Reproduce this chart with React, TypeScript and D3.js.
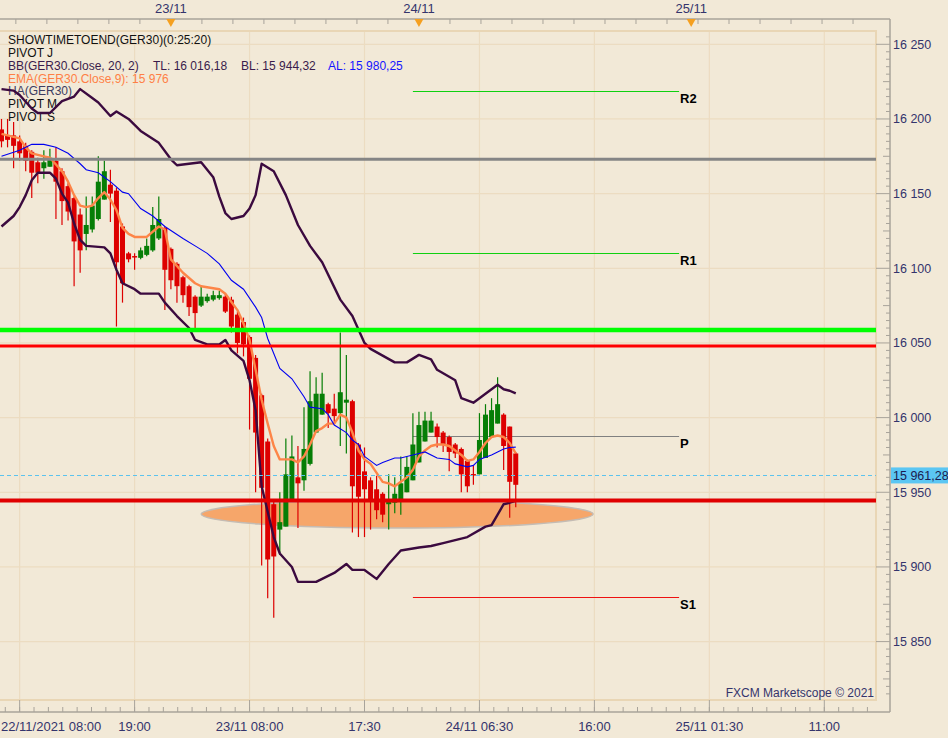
import React from 'react';
import * as d3 from 'd3';

// GER30, 30 min candles, index 0 = 22/11 06:30
const opens = [16193, 16189, 16189, 16185, 16182, 16178, 16171, 16167, 16168, 16172,
  16165, 16155, 16147, 16136, 16123, 16126, 16133, 16146, 16156, 16152,
  16128, 16110, 16108.2, 16107, 16109, 16112, 16120, 16127, 16113, 16103,
  16094, 16088, 16081, 16075, 16078, 16079, 16080, 16081, 16079, 16069,
  16064, 16054, 16040, 16015, 15984, 15942, 15925, 15927, 15945, 15960,
  15958, 15969, 15990, 16002, 16009, 16006, 16003, 16010, 16011, 15982,
  15964, 15958, 15952, 15949, 15942, 15943, 15945, 15950, 15958, 15970,
  15984, 15990, 15994, 15990, 15987, 15982, 15979, 15971, 15962.2, 15962,
  15973, 15987, 15996, 16002, 15994, 15976];
const highs = [16200, 16200, 16198, 16189, 16184, 16179, 16174, 16179, 16180, 16181,
  16167, 16157, 16148, 16140, 16148, 16148, 16175, 16172, 16166, 16154,
  16130, 16111, 16110, 16114, 16120, 16141, 16148, 16128, 16114, 16104,
  16095, 16089, 16082, 16088, 16083, 16085, 16085, 16083, 16081, 16071,
  16067, 16055, 16042, 16016, 15986, 15945, 15950, 15986, 15988, 15981,
  16007, 16031, 16027, 16030, 16010, 16016, 16057, 16042, 16012, 15983,
  15980, 15960, 15961, 15950, 15962, 15960, 15974, 15974, 16003, 16004,
  16004, 16004, 15996, 15991, 15988, 15983, 15980, 15972, 15968, 16003,
  16009, 16013, 16027, 16003, 15994, 15977];
const lows = [16181, 16181, 16167, 16172, 16165, 16147, 16157, 16160, 16168, 16133,
  16129, 16132, 16088, 16097, 16112, 16124, 16132, 16146, 16131, 16061,
  16077, 16104, 16099, 16106, 16108, 16111, 16119, 16072, 16086, 16077,
  16077, 16068, 16060, 16074, 16077, 16078, 16079, 16070, 16057, 16043,
  16041, 15992, 15950, 15901, 15879, 15866, 15908, 15927, 15944, 15926,
  15951, 15968, 15990, 16002, 15993, 15996, 15981, 15976, 15923, 15920,
  15920, 15925, 15932, 15930, 15925, 15936, 15935, 15950, 15958, 15970,
  15984, 15990, 15980, 15977, 15964, 15973, 15950, 15950, 15955, 15962,
  15973, 15987, 15996, 15965, 15933, 15940];
const closes = [16185, 16186, 16182, 16177, 16172, 16164, 16164, 16171, 16174, 16158,
  16145, 16138, 16118, 16112, 16129, 16142, 16158, 16165, 16150, 16104,
  16090, 16106, 16107.6, 16112, 16115, 16129, 16133, 16099, 16092, 16088,
  16082, 16074, 16070, 16081, 16081, 16082, 16082, 16071, 16061, 16050,
  16049, 16026, 15990, 15953, 15905, 15907, 15930, 15962, 15974, 15956,
  15979, 16011, 16016, 16016, 16003, 16001, 16017, 16012, 15954, 15947,
  15952, 15945, 15938, 15935, 15944, 15949, 15956, 15967, 15982, 15995,
  15998, 15998, 15987, 15982, 15977, 15976, 15962, 15954, 15961.8, 15985,
  16002, 16005, 16009, 15981, 15957, 15955];

// indicator lines: [candle index, price]
const bbUpper: [number, number][] = [[0, 16220], [2, 16219], [3, 16216], [5, 16207], [6, 16204], [8, 16204],
  [10, 16212], [12, 16215], [13, 16220], [15, 16214], [16, 16211], [18, 16202], [19, 16205], [21, 16200],
  [23, 16192], [26, 16184], [28, 16173], [29, 16169], [33, 16171], [35, 16161], [36, 16148], [37, 16137],
  [38, 16133], [40, 16135], [41, 16140], [42, 16149], [43, 16170], [45, 16165], [47, 16149], [49, 16129],
  [51, 16115], [53, 16104], [56, 16079], [58, 16068], [60, 16050], [61, 16046], [65, 16037], [67, 16037],
  [69, 16042], [71, 16039], [72, 16032], [75, 16025], [76, 16013], [78, 16010], [80, 16016], [82, 16022],
  [83, 16019], [84, 16018], [85, 16016.18]];
const bbLower: [number, number][] = [[0, 16128], [2, 16135], [3, 16141], [4, 16149], [5, 16159], [6, 16164],
  [8, 16164], [9, 16160], [10, 16150], [11, 16144], [12, 16130], [13, 16119], [14, 16115], [17, 16114],
  [18, 16110], [19, 16099], [20, 16090], [22, 16086], [23, 16083], [26, 16083], [27, 16077], [29, 16068],
  [31, 16060], [32, 16052], [34, 16049], [36, 16049], [37, 16052], [38, 16045], [40, 16038], [41, 16025],
  [42, 16005], [43, 15954], [45, 15920], [46, 15909], [48, 15900], [49, 15890], [52, 15890], [55, 15896],
  [57, 15902], [58, 15898], [60, 15898], [62, 15892], [64, 15902], [66, 15911], [69, 15913], [71, 15914],
  [73, 15916], [76, 15919], [77, 15920], [80, 15927], [81, 15928], [83, 15942], [84, 15943], [85, 15944.32]];
const bbMid: [number, number][] = [[0, 16175], [3, 16179], [5, 16183], [7, 16183], [9, 16181], [11, 16177],
  [13, 16170], [14, 16166], [16, 16164], [17, 16161], [18, 16158], [20, 16151], [21, 16150], [23, 16140],
  [25, 16135], [27, 16128], [30, 16120], [32, 16115], [34, 16110], [36, 16103], [38, 16092], [40, 16086],
  [42, 16074], [43, 16067], [44, 16053], [46, 16033], [48, 16026], [50, 16014], [51, 16007], [53, 16006],
  [54, 16002], [55, 15995], [57, 15990], [58, 15985], [59, 15982], [60, 15974], [61, 15971], [62, 15968],
  [63, 15970], [65, 15973], [66, 15973], [69, 15976], [70, 15977], [72, 15973], [74, 15972], [75, 15969],
  [77, 15967], [78, 15968], [79, 15972], [81, 15975], [82, 15977], [83, 15979], [84, 15980], [85, 15980.25]];
const ema9: [number, number][] = [[0, 16190], [3, 16187], [4, 16181], [5, 16177], [7, 16175], [8, 16174],
  [10, 16165], [11, 16158], [12, 16149], [13, 16142], [14, 16141], [15, 16142], [16, 16147], [17, 16151],
  [18, 16146], [19, 16139], [20, 16127], [21, 16123], [22, 16121], [24, 16121], [26, 16128], [27, 16126],
  [28, 16106], [30, 16097], [32, 16090], [33, 16088], [36, 16086], [37, 16083], [39, 16072], [40, 16063],
  [41, 16052], [42, 16032], [43, 16012], [44, 15996], [45, 15981], [46, 15972], [48, 15972], [49, 15970],
  [50, 15974], [51, 15982], [52, 15991], [53, 15993], [54, 15996], [55, 15996], [56, 16002], [57, 16000],
  [58, 15990], [59, 15978], [60, 15972], [61, 15969], [62, 15963], [63, 15957], [64, 15956], [65, 15954],
  [66, 15957], [67, 15960], [68, 15965], [69, 15974], [70, 15978], [71, 15981], [72, 15982], [73, 15982],
  [74, 15981], [75, 15978], [76, 15975], [77, 15971], [78, 15972], [79, 15977], [80, 15983], [81, 15987],
  [82, 15988], [83, 15987], [84, 15983], [85, 15976]];

// pivots for 24/11
const pivotNames = ['R2', 'R1', 'P', 'S1'];
const pivotValues = [16218.4, 16110.2, 15987.7, 15880.2];
const pivotColors = ['#10d010', '#10d010', '#808080', '#ee1111'];
const pivotSpan = [68, 112];

// drawn levels
const levelValues = [16173, 16058.7, 16047.9, 15944.5];
const levelColors = ['#858585', '#00ff00', '#ff0000', '#e00000'];
const levelWidths = [3, 4.5, 3, 4];
const lastPrice = 15961.28;

// highlighted zone (ellipse): centre index, centre price, half width in candles, half height in points
const zoneCenter = [65.4, 15935.4];
const zoneHalf = [32.4, 9.4];

// time axis
const bottomTickIdx = [3, 22, 41, 60, 79, 98, 117, 136];
const bottomLabels = ['22/11/2021 08:00', '19:00', '23/11 08:00', '17:30', '24/11 06:30', '16:00', '25/11 01:30', '11:00'];
const dayIdx = [28, 69, 114];
const dayLabels = ['23/11', '24/11', '25/11'];

const fmt = (v: number) => d3.format(',')(v).replace(/,/g, ' ');

const App: React.FC = () => {
  const W = 948, H = 738;
  const plotR = 876, plotT = 31, plotB = 700, axisX = 890, topY = 19, botY = 712;
  const font = "'Liberation Sans', Arial, sans-serif";
  const axisCol = '#34346c';

  const x = d3.scaleLinear().domain([0, 85]).range([1.5, 515.75]);
  const y = d3.scaleLinear().domain([15850, 16250]).range([641.6, 44.3]);
  const line = d3.line<[number, number]>().x(d => x(d[0])).y(d => y(d[1]));
  const crisp = (v: number) => Math.round(v) + 0.5;

  const priceTicks = d3.range(15815, 16256, 5).filter(v => y(v) >= plotT && y(v) <= plotB);
  const gridVals = priceTicks.filter(v => v % 50 === 0);
  const minorStep = 19 / 8;
  const botMinor = d3.range(3 - minorStep * 2, 145, minorStep).filter(i => x(i) >= 0 && x(i) <= plotR);
  const topStep = 41 / 8;
  const topMinor = d3.range(28 - topStep * 5, 145, topStep).filter(i => x(i) >= 0 && x(i) <= axisX);

  const idx = d3.range(opens.length);

  return (
    <div style={{ position: 'fixed', left: 0, top: 0 }}>
      <svg width={W} height={H} style={{ display: 'block' }} fontFamily={font}>
        <rect width={W} height={H} fill="#f2e9d7" />

        {/* grid */}
        {gridVals.map(v => (
          <line key={'gh' + v} x1={0} x2={plotR} y1={y(v)} y2={y(v)} stroke="#ecdcc1" strokeWidth={1.2} />
        ))}
        {bottomTickIdx.map(i => (
          <line key={'gv' + i} x1={x(i)} x2={x(i)} y1={plotT} y2={plotB} stroke="#ecdcc1" strokeWidth={1.2} />
        ))}
        <rect x={-2} y={plotT} width={plotR + 2} height={plotB - plotT} fill="none" stroke="#e9d6b5" strokeWidth={2} />

        {/* legend */}
        <g fontSize={12}>
          <text x={8} y={43.5} fill="#111">SHOWTIMETOEND(GER30)(0:25:20)</text>
          <text x={8} y={56.5} fill="#111">PIVOT J</text>
          <text x={8} y={69.5} fill="#3a1c4c">BB(GER30.Close, 20, 2)</text>
          <text x={153} y={69.5} fill="#3a1c4c">TL: 16 016,18</text>
          <text x={241} y={69.5} fill="#3a1c4c">BL: 15 944,32</text>
          <text x={328} y={69.5} fill="#1515ff">AL: 15 980,25</text>
          <text x={8} y={82.5} fill="#ff7f45">EMA(GER30.Close,9): 15 976</text>
          <text x={8} y={95} fill="#3c3c60">HA(GER30)</text>
          <text x={8} y={108} fill="#111">PIVOT M</text>
          <text x={8} y={121} fill="#111">PIVOT S</text>
        </g>

        {/* pivots */}
        {pivotValues.map((v, k) => (
          <g key={'pv' + k}>
            <line x1={x(pivotSpan[0])} x2={x(pivotSpan[1])} y1={crisp(y(v))} y2={crisp(y(v))} stroke={pivotColors[k]} strokeWidth={1} />
            <text x={x(pivotSpan[1]) + 1} y={y(v) + 12} fontSize={13} fontWeight="bold" fill="#000">{pivotNames[k]}</text>
          </g>
        ))}

        {/* zone */}
        <ellipse cx={x(zoneCenter[0])} cy={y(zoneCenter[1])}
          rx={x(zoneCenter[0] + zoneHalf[0]) - x(zoneCenter[0])}
          ry={y(zoneCenter[1] - zoneHalf[1]) - y(zoneCenter[1])}
          fill="#f6a66a" stroke="#c4bcb4" strokeWidth={1.5} />

        {/* candles */}
        {idx.map(i => {
          const up = closes[i] >= opens[i];
          const col = up ? '#067e06' : '#dd0000';
          const top = y(Math.max(opens[i], closes[i]));
          const bot = y(Math.min(opens[i], closes[i]));
          return (
            <g key={'c' + i}>
              <line x1={x(i)} x2={x(i)} y1={y(highs[i])} y2={y(lows[i])} stroke={col} strokeWidth={1.2} />
              <rect x={x(i) - 2.5} y={top} width={5} height={Math.max(1.5, bot - top)} fill={col} />
            </g>
          );
        })}

        {/* indicators */}
        <path d={line(bbUpper) || ''} fill="none" stroke="#3b0a3f" strokeWidth={2.4} strokeLinejoin="round" />
        <path d={line(bbLower) || ''} fill="none" stroke="#3b0a3f" strokeWidth={2.4} strokeLinejoin="round" />
        <path d={line(ema9) || ''} fill="none" stroke="#fd8548" strokeWidth={2.4} strokeLinejoin="round" />
        <path d={line(bbMid) || ''} fill="none" stroke="#0000f0" strokeWidth={1.1} />

        {/* horizontal levels */}
        {levelValues.map((v, k) => (
          <line key={'lv' + k} x1={0} x2={plotR} y1={y(v)} y2={y(v)} stroke={levelColors[k]} strokeWidth={levelWidths[k]} />
        ))}
        <line x1={0} x2={plotR} y1={crisp(y(lastPrice))} y2={crisp(y(lastPrice))} stroke="#5cc3ee" strokeWidth={1} strokeDasharray="4,3" />

        <text x={874} y={697} textAnchor="end" fontSize={12} fill={axisCol}>FXCM Marketscope © 2021</text>

        {/* right axis */}
        <line x1={axisX} x2={axisX} y1={topY} y2={botY} stroke="#a8a39a" strokeWidth={1.5} />
        {priceTicks.map(v => {
          const len = v % 50 === 0 ? 14 : v % 25 === 0 ? 7 : 4;
          return <line key={'pt' + v} x1={axisX - len} x2={axisX} y1={y(v)} y2={y(v)} stroke="#a8a39a" strokeWidth={1} />;
        })}
        {gridVals.map(v => (
          <text key={'pl' + v} x={893} y={y(v)} dy="0.36em" fontSize={12.5} fill={axisCol}>{fmt(v)}</text>
        ))}
        <rect x={891} y={y(lastPrice) - 8} width={60} height={16} fill="#5bc6f3" />
        <text x={893} y={y(lastPrice)} dy="0.36em" fontSize={12.5} fill="#1c1c50">{fmt(lastPrice).replace('.', ',')}</text>

        {/* bottom axis */}
        <line x1={0} x2={axisX} y1={botY} y2={botY} stroke="#a8a39a" strokeWidth={1.5} />
        {botMinor.map((i, k) => (
          <line key={'bm' + k} x1={x(i)} x2={x(i)} y1={botY - 5} y2={botY} stroke="#a8a39a" strokeWidth={1} />
        ))}
        {bottomTickIdx.map((i, k) => (
          <g key={'bt' + k}>
            <line x1={x(i)} x2={x(i)} y1={plotB} y2={botY} stroke="#a8a39a" strokeWidth={1} />
            <text x={k === 0 ? 1 : x(i)} y={730.5} textAnchor={k === 0 ? 'start' : 'middle'} fontSize={13} fill={axisCol}>{bottomLabels[k]}</text>
          </g>
        ))}

        {/* top axis */}
        <line x1={0} x2={axisX} y1={topY} y2={topY} stroke="#a8a39a" strokeWidth={1.5} />
        {topMinor.map((i, k) => (
          <line key={'tm' + k} x1={x(i)} x2={x(i)} y1={topY} y2={topY + 5} stroke="#a8a39a" strokeWidth={1} />
        ))}
        {dayIdx.map((i, k) => (
          <g key={'dy' + k}>
            <path d={`M${x(i) - 4.5},${topY} L${x(i) + 4.5},${topY} L${x(i)},${topY + 8} Z`} fill="#f5a020" />
            <text x={x(i)} y={13} textAnchor="middle" fontSize={13} fill={axisCol}>{dayLabels[k]}</text>
          </g>
        ))}
      </svg>
    </div>
  );
};

export default App;
